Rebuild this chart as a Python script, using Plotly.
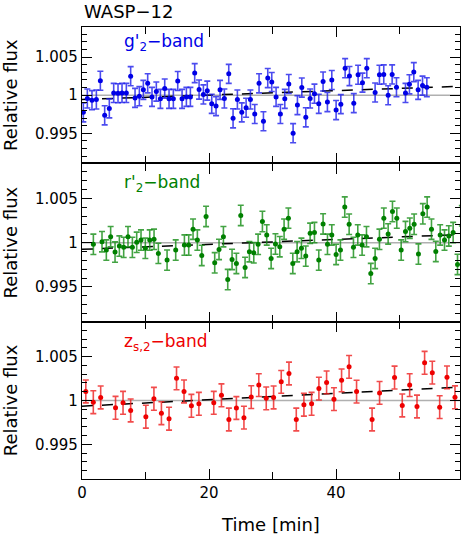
import plotly.graph_objects as go
from plotly.subplots import make_subplots

# g'2-band light curve (top panel)
g_time = [0.21, 0.84, 1.57, 2.26, 2.89, 3.57, 4.30, 4.99, 5.67, 6.30, 6.98, 7.66, 8.35, 9.03,
          9.66, 10.34, 11.02, 11.70, 12.34, 13.02, 13.70, 14.38, 15.07, 15.75, 16.43, 17.06,
          17.74, 18.43, 19.11, 19.72, 20.42, 21.10, 21.73, 22.41, 23.10, 23.78, 24.46, 25.15,
          25.83, 26.51, 27.19, 27.87, 28.56, 29.24, 29.87, 30.55, 31.23, 31.92, 32.55, 33.23,
          33.91, 34.60, 35.23, 35.91, 36.59, 37.27, 37.95, 38.63, 39.32, 40.00, 40.74, 41.42,
          42.10, 42.78, 43.46, 44.15, 44.83, 46.14, 46.82, 47.50, 48.19, 48.82, 49.50, 50.92,
          51.54, 52.23, 52.91, 53.60, 54.28]
g_flux = [0.99775, 0.99957, 0.99935, 0.99944, 1.0019, 0.99736, 0.99827, 1.0003, 1.00026, 1.0003,
          1.0003, 1.0025, 0.99965, 0.99987, 1.0007, 1.00156, 0.99978, 1.00048, 0.99952, 1.00087,
          0.99952, 0.99952, 1.00186, 0.99952, 0.99978, 0.99978, 1.0029, 1.00074, 1.0001, 1.0006,
          0.99887, 0.99857, 1.0007, 0.99957, 1.0028, 0.99697, 0.99944, 0.99775, 0.99835, 0.99944,
          0.99753, 1.00156, 0.99658, 1.00225, 1.00173, 0.99978, 0.99753, 0.99952, 1.00147, 0.99502,
          0.9987, 1.001, 0.9971, 0.99957, 1.0002, 0.99887, 1.0018, 0.9991, 1.002, 0.99805,
          0.99883, 1.00355, 1.00251, 0.99896, 1.00268, 1.00165, 1.00355, 1.00035, 1.00268, 1.00273,
          1.0, 1.00273, 1.00104, 1.0003, 1.00143, 1.00303, 1.0007, 1.00126, 1.00104]
g_err = 0.00125

# r'2-band light curve (middle panel)
r_time = [1.79, 3.15, 3.83, 4.51, 5.20, 5.88, 6.56, 7.24, 7.93, 8.61, 9.29, 9.97, 10.66, 11.34,
          12.02, 13.39, 14.75, 16.12, 16.80, 17.48, 18.16, 18.85, 19.53, 20.89, 21.57, 22.26,
          22.94, 23.62, 24.30, 24.99, 25.67, 26.35, 27.04, 27.72, 28.40, 29.08, 29.77, 30.45,
          31.13, 31.81, 32.49, 33.18, 33.86, 34.54, 35.22, 35.91, 36.59, 37.27, 37.95, 38.64,
          39.32, 40.00, 40.68, 41.36, 42.05, 42.73, 43.41, 44.09, 44.78, 45.46, 46.14, 46.82,
          47.51, 48.19, 48.87, 49.55, 50.24, 50.92, 51.60, 52.28, 52.96, 53.65, 54.33, 55.01,
          55.69, 56.38, 57.06, 57.74, 58.42, 59.11, 59.79]
r_flux = [0.99981, 1.00011, 0.99917, 1.00068, 0.99894, 0.99962, 0.99947, 1.00068, 0.99947, 1.00004,
          1.0003, 0.99936, 1.0003, 1.00038, 0.99879, 0.99803, 0.99917, 0.99973, 0.99973, 1.00152,
          1.0003, 0.99856, 1.00296, 0.99773, 0.99924, 1.00068, 0.99583, 0.99811, 0.99765, 1.00307,
          0.9972, 0.99898, 0.99886, 0.99981, 1.00239, 1.00087, 0.99822, 0.99985, 0.99955, 1.00152,
          1.00277, 0.99765, 0.99898, 0.99936, 0.99848, 1.00106, 1.00114, 0.99803, 1.00212, 0.99981,
          1.00087, 0.99867, 0.99917, 1.00402, 1.00208, 0.99947, 1.00087, 0.99973, 1.00068, 0.99651,
          0.99822, 1.00038, 1.00277, 1.00099, 1.00352, 1.00277, 0.99917, 1.00125, 1.00163, 1.00208,
          0.99871, 1.00326, 1.00402, 1.00152, 0.99901, 1.00087, 1.0003, 1.00076, 1.00114, 0.99754,
          1.00303]
r_err = 0.00115

# z_s,2-band light curve (bottom panel)
z_time = [0.60, 1.78, 2.94, 5.28, 6.46, 7.66, 10.05, 11.32, 12.50, 13.70, 14.88, 16.06, 17.22,
          18.40, 20.74, 21.95, 23.12, 24.30, 25.49, 26.64, 27.83, 29.0, 30.16, 31.36, 32.58,
          33.73, 34.93, 36.14, 37.29, 38.50, 39.66, 40.86, 42.04, 43.22, 45.66, 46.84, 49.20,
          50.41, 51.58, 52.73, 53.93, 55.14, 56.30, 57.45, 58.71]
z_flux = [1.00103, 0.9998, 1.00034, 0.99916, 0.99973, 0.99886, 0.99815, 1.00019, 0.99855, 0.99792,
          1.00252, 1.00103, 0.99939, 0.99962, 0.99973, 1.00059, 0.99783, 0.99914, 0.99804, 1.00038,
          1.00175, 1.00024, 1.00034, 1.00212, 1.00307, 0.99783, 0.99952, 0.99962, 1.00135, 1.00206,
          1.00015, 1.00229, 1.00383, 1.00101, 0.99783, 1.00086, 1.00261, 0.99943, 1.00175, 0.99931,
          1.00429, 1.00317, 0.99924, 1.00263, 1.00036]
z_err = 0.0013

# linear trend models (dashed)
trend_time = [0, 59.5]
g_trend = [0.99944, 1.00117]
r_trend = [0.99925, 1.00091]
z_trend = [0.99935, 1.00152]

bands = [
    ("g'<sub>2</sub>−band", g_time, g_flux, g_err, g_trend, '#0000e6', 'rgba(30,30,235,0.8)'),
    ("r'<sub>2</sub>−band", r_time, r_flux, r_err, r_trend, '#008000', 'rgba(20,140,20,0.8)'),
    ("z<sub>s,2</sub>−band", z_time, z_flux, z_err, z_trend, '#ee0000', 'rgba(238,30,30,0.8)'),
]

font = 'DejaVu Sans'

fig = make_subplots(rows=3, cols=1, shared_xaxes=True, vertical_spacing=0,
                    row_heights=[136.6, 158.7, 157.3])

for i, (label, t, f, err, trend, col, ecol) in enumerate(bands):
    row = i + 1
    fig.add_trace(go.Scatter(x=[0, 59.5], y=[1, 1], mode='lines',
                             line=dict(color='#b0b0b0', width=1.5),
                             showlegend=False, hoverinfo='skip'), row=row, col=1)
    fig.add_trace(go.Scatter(x=trend_time, y=trend, mode='lines',
                             line=dict(color='black', width=1.5, dash='11px,9px'),
                             showlegend=False), row=row, col=1)
    fig.add_trace(go.Scatter(x=t, y=f, mode='markers',
                             marker=dict(color=col, size=5),
                             error_y=dict(type='constant', value=err, color=ecol,
                                          thickness=1.6, width=3),
                             showlegend=False), row=row, col=1)
    axis_id = '' if row == 1 else str(row)
    fig.add_annotation(text=label, xref=f'x{axis_id} domain', yref=f'y{axis_id} domain',
                       x=0.105, y=[0.888, 0.876, 0.871][i], xanchor='left', yanchor='middle',
                       showarrow=False, font=dict(family=font, size=17, color=col))
    fig.update_yaxes(
        range=[0.99105, 1.00895], automargin=False,
        tickvals=[0.995, 1.0, 1.005], ticktext=['0.995', '1', '1.005'],
        ticks='inside', ticklen=10, tickwidth=1.2, tickcolor='black',
        minor=dict(dtick=0.001, tick0=0.99, ticks='inside', ticklen=5,
                   tickwidth=1.2, tickcolor='black'),
        showline=True, linecolor='black', linewidth=1.2, mirror='allticks',
        showgrid=False, zeroline=False,
        tickfont=dict(family=font, size=15, color='black'),
        title=dict(text='Relative flux', font=dict(family=font, size=18, color='black'),
                   standoff=23),
        row=row, col=1)
    fig.update_xaxes(
        range=[0, 59.5], tickvals=[0, 20, 40], automargin=False,
        ticks='inside', ticklen=10, tickwidth=1.2, tickcolor='black',
        minor=dict(dtick=10, tick0=0, ticks='inside', ticklen=7,
                   tickwidth=1.2, tickcolor='black'),
        showline=True, linecolor='black', linewidth=1.2, mirror='allticks',
        showgrid=False, zeroline=False,
        tickfont=dict(family=font, size=15, color='black'),
        row=row, col=1)

fig.update_xaxes(title=dict(text='Time [min]', font=dict(family=font, size=18, color='black'),
                            standoff=18), row=3, col=1)

fig.add_annotation(text='WASP−12', xref='paper', yref='paper', x=0.0, y=1.0,
                   xanchor='left', yanchor='bottom', yshift=3, showarrow=False,
                   font=dict(family=font, size=18, color='black'))

fig.update_layout(width=463, height=535, margin=dict(l=82, r=3, t=27, b=56),
                  paper_bgcolor='white', plot_bgcolor='white',
                  font=dict(family=font))

# drop the default page margin so the figure sits at the window's corner
fig.write_html("out.html", config={'displayModeBar': False},
               post_script="document.body.style.margin = '0';")
